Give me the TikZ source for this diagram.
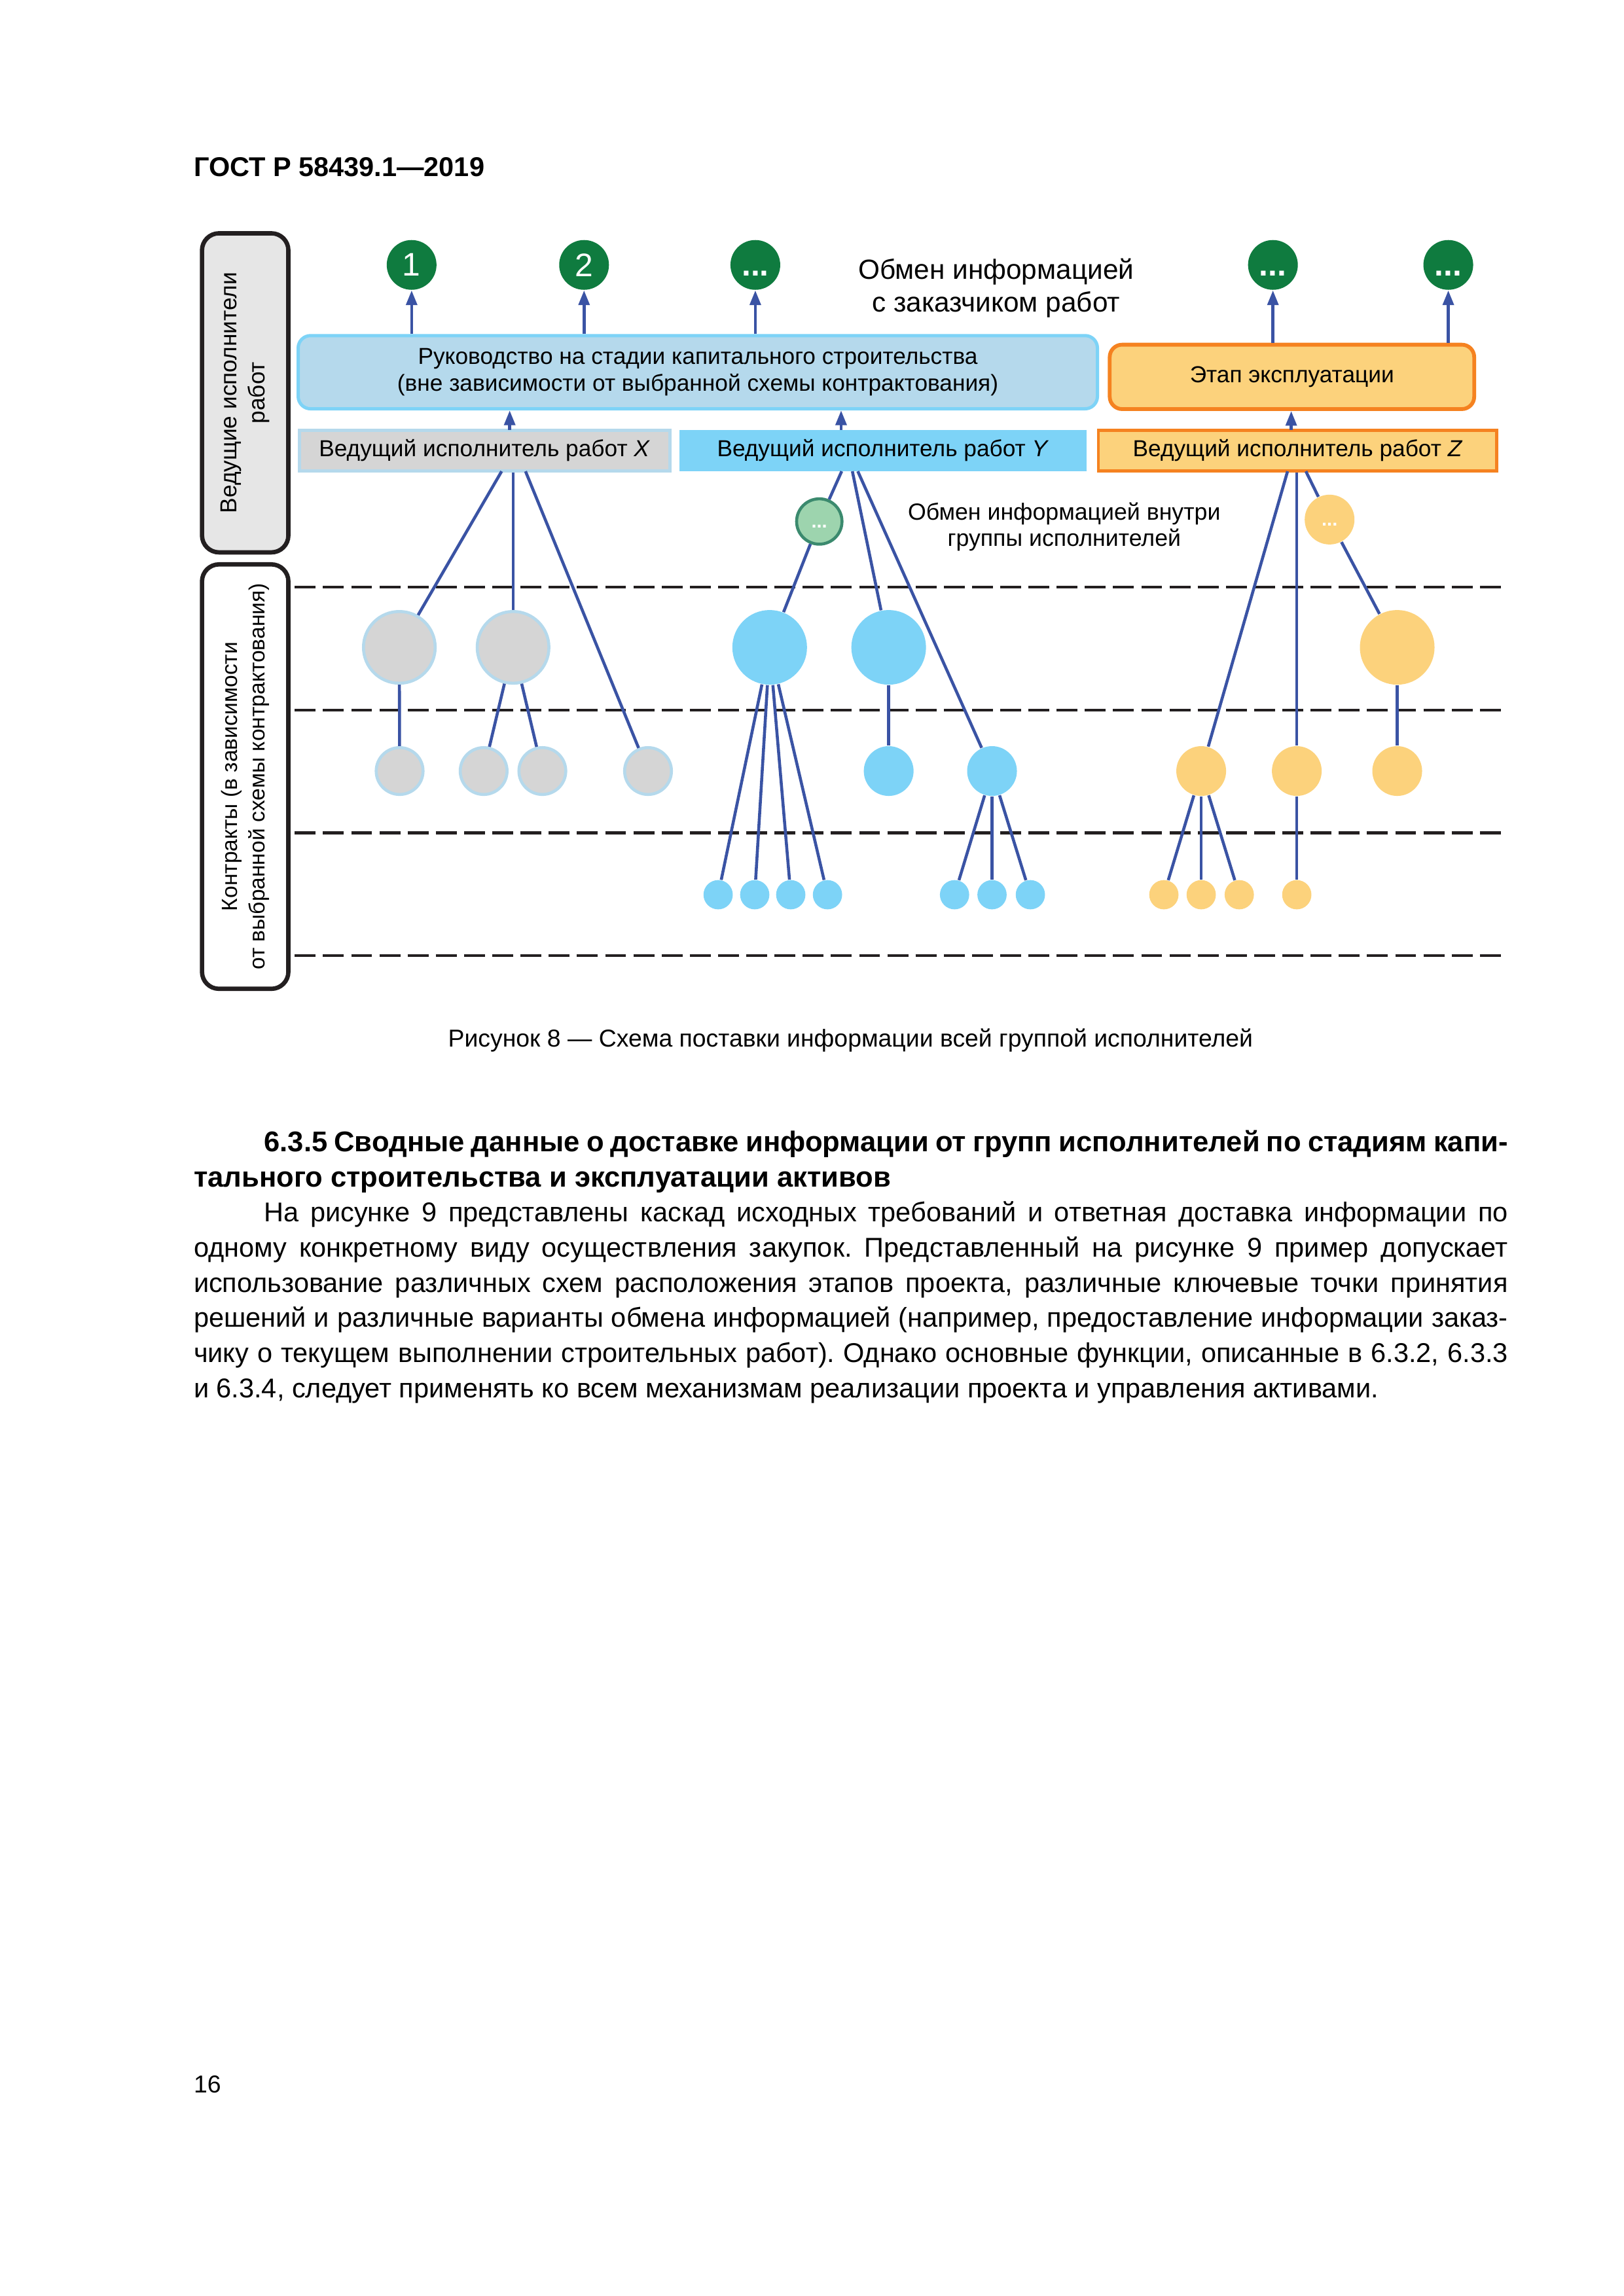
\documentclass[tikz,border=0pt]{standalone}
\usepackage{fontspec}
\setmainfont{Liberation Sans}
\usetikzlibrary{arrows.meta}
\newlength\gu
\setlength\gu{0.189357mm}
\definecolor{leadgreen}{HTML}{0F7B3F}
\definecolor{linkblue}{HTML}{3A53A4}
\definecolor{paleblue}{HTML}{B5D9EC}
\definecolor{skyblue}{HTML}{7DD3F7}
\definecolor{nodegray}{HTML}{D5D5D5}
\definecolor{sidegray}{HTML}{E6E6E6}
\definecolor{paleorange}{HTML}{FCD27C}
\definecolor{deeporange}{HTML}{F58220}
\definecolor{palegreen}{HTML}{9DD4AE}
\definecolor{darkgreen}{HTML}{3B8A6E}
\definecolor{inkblack}{HTML}{231F20}
\newcommand\spreadline[1]{\makebox[170mm][s]{#1}}
\tikzset{
  sidebar/.style={draw=inkblack, line width=1.6pt, rounded corners=2.2mm, rotate=90,
    align=center, inner sep=0pt},
  client/.style={circle, fill=leadgreen, text=white, minimum size=34*\gu, inner sep=0pt,
    font=\fontsize{12}{12}\selectfont},
  phasebox/.style={rounded corners=1.6mm, line width=1.2pt, align=center, inner sep=0pt,
    font=\fontsize{8.5}{10}\selectfont},
  leadbox/.style={minimum height=28*\gu, line width=1.2pt, inner sep=0pt,
    font=\fontsize{8.5}{10}\selectfont},
  bignode/.style={circle, minimum size=51*\gu, inner sep=0pt},
  midnode/.style={circle, minimum size=34*\gu, inner sep=0pt},
  tinynode/.style={circle, minimum size=20*\gu, inner sep=0pt},
  xnode/.style={fill=nodegray, draw=paleblue, line width=1.1pt},
  ynode/.style={fill=skyblue},
  znode/.style={fill=paleorange},
  dots/.style={text=white, font=\fontsize{7}{7}\bfseries},
  wire/.style={draw=linkblue, line width=1.1pt},
  divider/.style={draw=inkblack, line width=1pt, dash pattern=on 2.7mm off 0.95mm},
}
\begin{document}
\begin{tikzpicture}[x=\gu, y=-\gu, >={Triangle[length=1.9mm,width=1.4mm]}]
  \useasboundingbox[fill=white] (0,0) rectangle (1109,1568.7);
  % page head
  \node[anchor=west, inner sep=0pt, font=\fontsize{10}{12}\bfseries] (gost) at (132,114) {ГОСТ Р 58439.1—2019};
  % side bars
  \node[sidebar, fill=sidegray, minimum width=218*\gu, minimum height=59*\gu,
    font=\fontsize{8.5}{10.2}\selectfont] (leadbar)
    at (167.5,268.4) {Ведущие исполнители\\работ};
  \node[sidebar, fill=white, minimum width=290*\gu, minimum height=59*\gu,
    font=\fontsize{8.1}{10.2}\selectfont] (contrbar)
    at (167.5,530.6) {Контракты (в зависимости\\от выбранной схемы контрактования)};
  % levels
  \foreach \yy in {401,485,569,653}
    \draw[divider] (201.4,\yy) -- (1025.3,\yy);
  % exchange with the client
  \node[client] (c1) at (281.2,181) {1};
  \node[client] (c2) at (399,181) {2};
  \node[client, font=\fontsize{12}{12}\bfseries] (c3) at (516,181) {\vphantom{1}...};
  \node[client, font=\fontsize{12}{12}\bfseries] (c4) at (869.6,181) {\vphantom{1}...};
  \node[client, font=\fontsize{12}{12}\bfseries] (c5) at (989.4,181) {\vphantom{1}...};
  \node[align=center, font=\fontsize{10.2}{12}\selectfont] (clienttxt) at (680.5,197)
    {Обмен информацией\\с заказчиком работ};
  % stages
  \node[phasebox, fill=paleblue, draw=skyblue, minimum width=546*\gu, minimum height=50*\gu]
    (constr) at (476.7,254.3)
    {Руководство на стадии капитального строительства\\(вне зависимости от выбранной схемы контрактования)};
  \node[phasebox, fill=paleorange, draw=deeporange, line width=1.4pt, minimum width=249*\gu,
    minimum height=44*\gu] (oper) at (882.6,257.5) {Этап эксплуатации};
  % lead appointed parties
  \node[leadbox, fill=nodegray, draw=paleblue, minimum width=253*\gu] (xlead) at (331,307.9)
    {Ведущий исполнитель работ \textit{X}};
  \node[leadbox, fill=skyblue, minimum width=278.3*\gu] (ylead) at (603.2,307.9)
    {Ведущий исполнитель работ \textit{Y}};
  \node[leadbox, fill=paleorange, draw=deeporange, minimum width=272.3*\gu] (zlead) at (886.5,307.9)
    {Ведущий исполнитель работ \textit{Z}};
  \node[align=center, font=\fontsize{8.6}{9.5}\selectfont] (grouptxt) at (727,360)
    {Обмен информацией внутри\\группы исполнителей};
  % task teams X
  \node[bignode, xnode, minimum size=49*\gu] (gx1) at (272.8,442.3) {};
  \node[bignode, xnode, minimum size=49*\gu] (gx2) at (350.5,442.3) {};
  \foreach \nm/\xx in {gs1/273, gs2/330.4, gs3/370.5, gs4/442.7}
    \node[midnode, xnode, minimum size=32*\gu] (\nm) at (\xx,526.8) {};
  % task teams Y
  \node[midnode, fill=palegreen, draw=darkgreen, line width=1.1pt, minimum size=31*\gu, dots]
    (yg) at (559.7,356.3) {\vphantom{1}...};
  \node[bignode, ynode] (yb1) at (525.8,442.3) {};
  \node[bignode, ynode] (yb2) at (607.1,442.3) {};
  \node[midnode, ynode] (ys1) at (607.1,526.8) {};
  \node[midnode, ynode] (ys2) at (677.7,526.8) {};
  \foreach \nm/\xx in {yt1/490.6, yt2/515.6, yt3/540.2, yt4/565.3, yt5/652.1, yt6/677.7, yt7/703.9}
    \node[tinynode, ynode] (\nm) at (\xx,611.3) {};
  % task teams Z
  \node[midnode, znode, dots] (zg) at (908.3,355) {\vphantom{1}...};
  \node[bignode, znode] (zb) at (954.5,442.3) {};
  \foreach \nm/\xx in {zs1/820.6, zs2/885.9, zs3/954.5}
    \node[midnode, znode] (\nm) at (\xx,526.8) {};
  \foreach \nm/\xx in {zt1/795.1, zt2/820.6, zt3/846.6, zt4/885.9}
    \node[tinynode, znode] (\nm) at (\xx,611.3) {};
  % arrows up
  \foreach \cc in {c1,c2,c3}
    \draw[wire,->] (constr.north -| \cc) -- (\cc);
  \foreach \cc in {c4,c5}
    \draw[wire,->] (oper.north -| \cc) -- (\cc);
  \coordinate (xup) at (348.2,293.7);
  \coordinate (yup) at (574.6,293.7);
  \coordinate (zup) at (882.1,293.7);
  \draw[wire,->] (xup) -- (xup |- constr.south);
  \draw[wire,->] (yup) -- (yup |- constr.south);
  \draw[wire,->] (zup) -- (zup |- oper.south);
  % links from the lead parties
  \coordinate (xo1) at (342.7,322);
  \coordinate (xo3) at (359,322);
  \coordinate (yo1) at (575,322);
  \coordinate (yo2) at (582.3,322);
  \coordinate (yo3) at (586,322);
  \coordinate (zo1) at (879.6,322);
  \coordinate (zo3) at (892.1,322);
  \draw[wire] (xo1) -- (gx1);
  \draw[wire] (xlead.south -| gx2) -- (gx2);
  \draw[wire] (xo3) -- (gs4);
  \draw[wire] (gx1) -- (gs1);
  \draw[wire] (gx2) -- (gs2);
  \draw[wire] (gx2) -- (gs3);
  \draw[wire] (yo1) -- (yg);
  \draw[wire] (yg) -- (yb1);
  \draw[wire] (yo2) -- (yb2);
  \draw[wire] (yo3) -- (ys2);
  \foreach \tt in {yt1,yt2,yt3,yt4}
    \draw[wire] (yb1) -- (\tt);
  \draw[wire] (yb2) -- (ys1);
  \foreach \tt in {yt5,yt6,yt7}
    \draw[wire] (ys2) -- (\tt);
  \draw[wire] (zo1) -- (zs1);
  \draw[wire] (zlead.south -| zs2) -- (zs2);
  \draw[wire] (zo3) -- (zg);
  \draw[wire] (zg) -- (zb);
  \draw[wire] (zb) -- (zs3);
  \foreach \tt in {zt1,zt2,zt3}
    \draw[wire] (zs1) -- (\tt);
  \draw[wire] (zs2) -- (zt4);
  % caption
  \node[font=\fontsize{9}{11}\selectfont] (caption) at (581,711)
    {Рисунок 8 — Схема поставки информации всей группой исполнителей};
  % text
  \node[anchor=north west, inner sep=0pt, text width=170mm, align=left,
    font=\fontsize{10}{12.93}\selectfont] (body) at (132,772) {%
    \frenchspacing\spaceskip=0pt \xspaceskip=0pt
    \spreadline{\hspace*{9.1mm}\fontsize{10.5}{12.93}\bfseries 6.3.5 Сводные данные о доставке информации от групп исполнителей по стадиям капи-}\\
    {\fontsize{10.5}{12.93}\bfseries тального строительства и эксплуатации активов}\\
    \spreadline{\hspace*{9.1mm}На рисунке 9 представлены каскад исходных требований и ответная доставка информации по}\\
    \spreadline{одному конкретному виду осуществления закупок. Представленный на рисунке 9 пример допускает}\\
    \spreadline{использование различных схем расположения этапов проекта, различные ключевые точки принятия}\\
    \spreadline{решений и различные варианты обмена информацией (например, предоставление информации заказ-}\\
    \spreadline{чику о текущем выполнении строительных работ). Однако основные функции, описанные в 6.3.2, 6.3.3}\\
    и 6.3.4, следует применять ко всем механизмам реализации проекта и управления активами.};
  \node[anchor=west, inner sep=0pt, font=\fontsize{9}{11}\selectfont] (pageno) at (132,1424) {16};
\end{tikzpicture}
\end{document}
